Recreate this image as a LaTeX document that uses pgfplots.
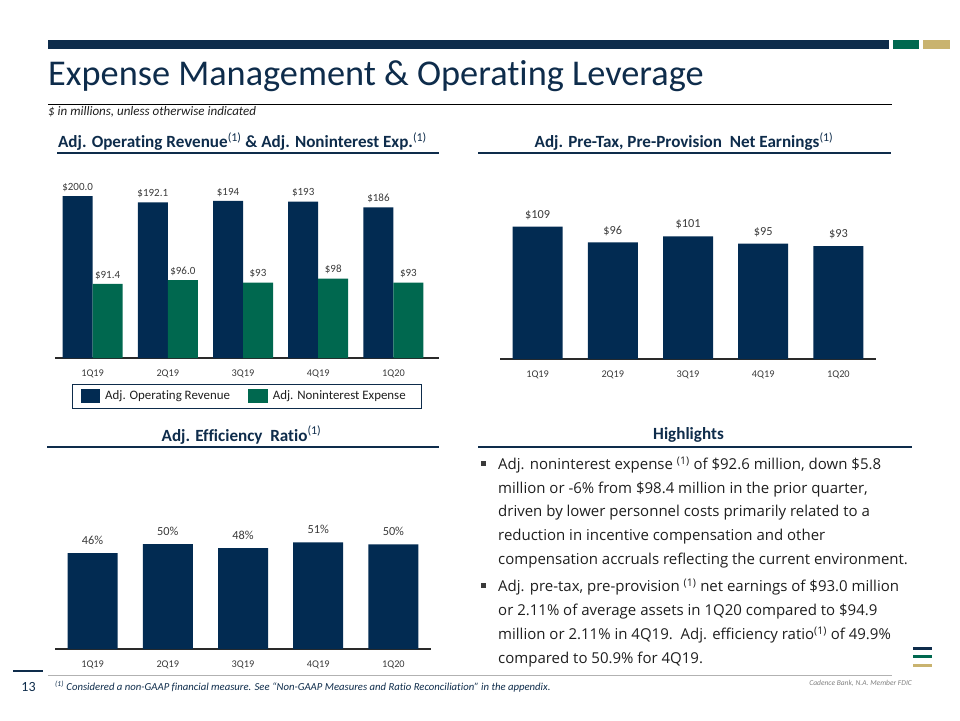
\documentclass[border=0pt]{standalone}
\usepackage{fontspec}
\setmainfont{Carlito}[Ligatures=NoCommon]
\newfontfamily\bodyfont{Open Sans}
\usepackage{pgfplots}
\pgfplotsset{compat=1.18}
\definecolor{navy}{HTML}{0E2C4B}
\definecolor{barnavy}{HTML}{022B52}
\definecolor{dgreen}{HTML}{00684F}
\definecolor{gold}{HTML}{C9B36F}
\definecolor{txt}{HTML}{1E1E1E}
\definecolor{lbl}{HTML}{3A3A3A}
\definecolor{axisgray}{HTML}{2A2A2A}
\newcommand{\fs}[1]{\fontsize{#1}{#1}\selectfont}
\pgfplotsset{
  slide/.style={
    scale only axis, clip=false,
    axis x line=bottom, axis y line=none,
    x axis line style={-, draw=axisgray, line width=1.7pt},
    ymin=0, xmin=-0.5,
    xtick={0,1,2,3,4}, xticklabels={1Q19,2Q19,3Q19,4Q19,1Q20},
    major tick length=0pt,
    xticklabel style={font=\fs{10.3}, text=lbl, yshift=-8pt},
    nodes near coords, point meta=explicit symbolic,
    every node near coord/.append style={text=lbl},
  }
}
\begin{document}
\begin{tikzpicture}[x=1pt,y=-1pt]
\path (0,0) rectangle (960,720);
% top bars
\fill[navy] (48,40) rectangle (889,49);
\fill[dgreen] (893,40) rectangle (919,49);
\fill[gold] (923,40) rectangle (950,49);
% title
\node[anchor=base west, inner sep=0, text=navy, font=\fs{36.3}] at (48,85.7) {Expense Management \& Operating Leverage};
\draw[black, line width=1pt] (48,104) -- (892,104);
\node[anchor=west, inner sep=0, text=txt, font=\fs{13}\itshape] at (48,112) {\$ in millions, unless otherwise indicated};
% section headers
\node[text=navy, font=\fs{17.1}\bfseries, inner sep=0] at (242.5,141.5) {Adj. Operating Revenue\textsuperscript{\mdseries(1)} \& Adj. Noninterest Exp.\textsuperscript{\mdseries(1)}};
\draw[navy, line width=2pt] (57,152.7) -- (439,152.7);
\node[text=navy, font=\fs{17.1}\bfseries, inner sep=0] at (684,141.5) {Adj. Pre-Tax, Pre-Provision\ \ Net Earnings\textsuperscript{\mdseries(1)}};
\draw[navy, line width=2pt] (478,152.7) -- (890.7,152.7);
\node[text=navy, font=\fs{17.1}\bfseries, inner sep=0] at (241.5,435) {Adj. Efficiency\ \ Ratio\textsuperscript{\mdseries(1)}};
\draw[navy, line width=2pt] (47,447.3) -- (439,447.3);
\node[text=navy, font=\fs{17.1}\bfseries, inner sep=0] at (688.5,435) {Highlights};
\draw[navy, line width=2pt] (478,446.5) -- (911.7,446.5);

% chart 1
\begin{axis}[slide, at={(55pt,-358pt)}, anchor=south west,
  width=384pt, height=178.2pt, xmax=4.606, ymax=220,
  ybar=0pt, bar width=30pt,
  every node near coord/.append style={font=\fs{11}, yshift=1pt}]
\addplot[fill=barnavy, draw=none] coordinates {(0,200.0) [\$200.0] (1,192.1) [\$192.1] (2,194) [\$194] (3,193) [\$193] (4,186) [\$186]};
\addplot[fill=dgreen, draw=none] coordinates {(0,91.4) [\$91.4] (1,96.0) [\$96.0] (2,93) [\$93] (3,98) [\$98] (4,93) [\$93]};
\end{axis}
% legend 1
\draw[navy, line width=0.9pt] (72.3,384) rectangle (421,408.3);
\fill[barnavy] (80.7,389.3) rectangle (100,403.3);
\fill[dgreen] (248.3,389.3) rectangle (267.7,403.3);
\node[anchor=west, inner sep=0, text=txt, font=\fs{12.9}] at (105,396.2) {Adj. Operating Revenue};
\node[anchor=west, inner sep=0, text=txt, font=\fs{12.9}] at (272.7,396.2) {Adj. Noninterest Expense};

% chart 2
\begin{axis}[slide, at={(500pt,-359pt)}, anchor=south west,
  width=376pt, height=145.7pt, xmax=4.5, ymax=120,
  ybar=0pt, bar width=50pt,
  every node near coord/.append style={font=\fs{12.3}, yshift=3.5pt}]
\addplot[fill=barnavy, draw=none] coordinates {(0,109) [\$109] (1,96) [\$96] (2,101) [\$101] (3,95) [\$95] (4,93) [\$93]};
\end{axis}

% chart 3
\begin{axis}[slide, at={(55pt,-649pt)}, anchor=south west,
  width=376pt, height=125.7pt, xmax=4.5, ymax=60,
  ybar=0pt, bar width=50pt,
  every node near coord/.append style={font=\fs{12.3}, yshift=5pt}]
\addplot[fill=barnavy, draw=none] coordinates {(0,45.8) [46\%] (1,50.1) [50\%] (2,48.1) [48\%] (3,50.9) [51\%] (4,49.9) [50\%]};
\end{axis}

% highlights
\foreach \yy in {463.3,585.7} {\fill[lbl] (480.5,\yy-2.6) rectangle (485.7,\yy+2.6);}
\begin{scope}[every node/.style={anchor=base west, inner sep=0, text=txt, font=\bodyfont\fs{15}}]
\node at (498,469.3) {Adj. noninterest expense \textsuperscript{(1)} of \$92.6 million, down \$5.8};
\node at (498,493.0) {million or -6\% from \$98.4 million in the prior quarter,};
\node at (498,516.6) {driven by lower personnel costs primarily related to a};
\node at (498,540.3) {reduction in incentive compensation and other};
\node at (498,564.0) {compensation accruals reflecting the current environment.};
\node at (498,591.7) {Adj. pre-tax, pre-provision \textsuperscript{(1)} net earnings of \$93.0 million};
\node at (498,615.5) {or 2.11\% of average assets in 1Q20 compared to \$94.9};
\node at (498,639.3) {million or 2.11\% in 4Q19.\ \ Adj. efficiency ratio\textsuperscript{(1)} of 49.9\%};
\node at (498,663.0) {compared to 50.9\% for 4Q19.};
\end{scope}

% footer
\draw[navy, line width=2.5pt] (13,671) -- (43,671);
\draw[black!30, line width=0.8pt] (48,675) -- (892,675);
\node[text=navy, font=\fs{14}, inner sep=0] at (28.5,687) {13};
\node[anchor=west, inner sep=0, text=navy, font=\fs{10.7}\itshape] at (55,687) {\textsuperscript{(1)} Considered a non-GAAP financial measure. See ``Non-GAAP Measures and Ratio Reconciliation'' in the appendix.};
\node[anchor=east, inner sep=0, text=black!50, font=\fs{7.5}\itshape] at (912,683) {Cadence Bank, N.A. Member FDIC};
% logo
\fill[navy] (913,646.8) rectangle (932,649.8);
\fill[dgreen] (913,655) rectangle (932,658);
\fill[gold] (913,664) rectangle (932,667);
\end{tikzpicture}
\end{document}
